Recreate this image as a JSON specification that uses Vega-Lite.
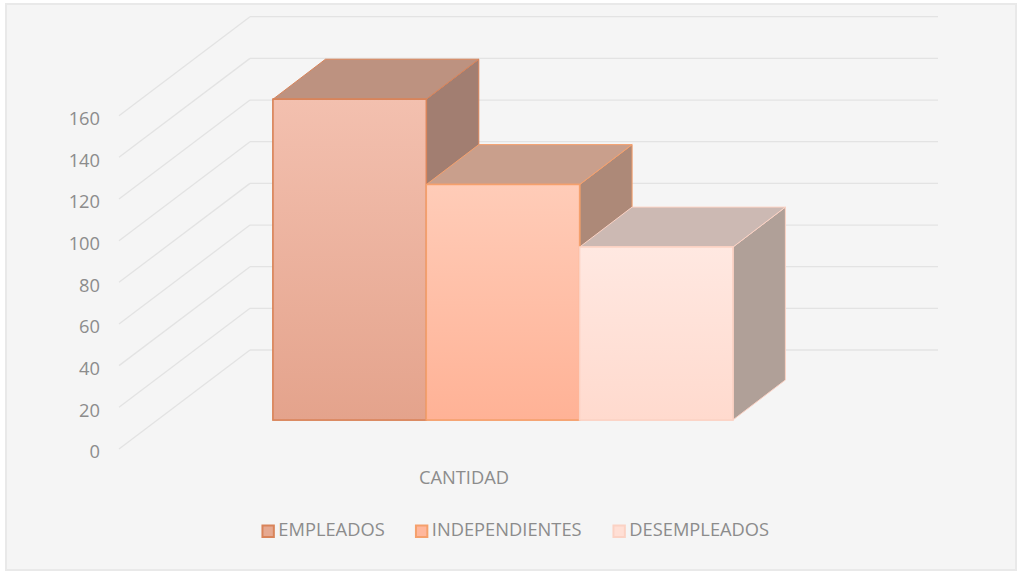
{
"$schema":"https://vega.github.io/schema/vega-lite/v6.json",
"width":1010,"height":566,
"autosize":{"type":"none"},
"padding":{"left":6,"top":4,"right":2,"bottom":1},
"background":"#ffffff",
"config":{"view":{"fill":"#f5f5f5","stroke":"#e9e9e9","strokeWidth":2},"font":"Open Sans"},
"datasets":{
"barras":[{"categoria":"EMPLEADOS","cantidad":154},{"categoria":"INDEPENDIENTES","cantidad":113},{"categoria":"DESEMPLEADOS","cantidad":83}],
"ejes":[{"valor":0},{"valor":20},{"valor":40},{"valor":60},{"valor":80},{"valor":100},{"valor":120},{"valor":140},{"valor":160}]
},
"resolve":{"scale":{"fill":"independent"},"axis":{"x":"independent","y":"independent"}},
"layer":[
{"data":{"name":"ejes"},
 "transform":[{"calculate":"119","as":"xa"},{"calculate":"250","as":"xb"},{"calculate":"datum.valor+47.5","as":"fondo"}],
 "mark":{"type":"rule","color":"#e3e3e3","strokeWidth":1.3},
 "encoding":{
  "x":{"field":"xa","type":"quantitative","scale":{"domain":[6,1016],"nice":false,"zero":false},
   "axis":{"title":"CANTIDAD","labels":false,"ticks":false,"domain":false,"grid":false,"titleX":457.5,"titleY":-92,"titleAlign":"center","titleBaseline":"middle","titleFont":"Open Sans","titleFontSize":18.3,"titleFontWeight":"normal","titleColor":"#8c8c8c"}},
  "x2":{"field":"xb"},
  "y":{"field":"valor","type":"quantitative","scale":{"domain":[-58.1,213.6],"nice":false,"zero":false},
   "axis":{"title":null,"values":[0,20,40,60,80,100,120,140,160],"offset":-93.5,"labelPadding":0,"ticks":false,"domain":false,"grid":false,"labelFont":"Open Sans","labelFontSize":18.3,"labelColor":"#8c8c8c","labelOffset":4}},
  "y2":{"field":"fondo"}}},
{"data":{"name":"ejes"},
 "transform":[{"calculate":"250","as":"xa"},{"calculate":"938","as":"xb"},{"calculate":"datum.valor+47.5","as":"fondo"}],
 "mark":{"type":"rule","color":"#e3e3e3","strokeWidth":1.3},
 "encoding":{
  "x":{"field":"xa","type":"quantitative","axis":null},
  "x2":{"field":"xb"},
  "y":{"field":"fondo","type":"quantitative","axis":null}}},
{"data":{"name":"barras"},
 "transform":[
  {"calculate":"indexof(['EMPLEADOS','INDEPENDIENTES','DESEMPLEADOS'],datum.categoria)","as":"i"},
  {"calculate":"[0,1]","as":"d"},{"flatten":["d"]},
  {"calculate":"273+153.3*datum.i+153.3+52.5*datum.d","as":"px"},
  {"calculate":"13.9+datum.cantidad+19.2*datum.d","as":"ya"},
  {"calculate":"13.9+19.2*datum.d","as":"yb"}],
 "mark":{"type":"area","orient":"vertical","strokeWidth":1},
 "encoding":{
  "x":{"field":"px","type":"quantitative","axis":null},
  "y":{"field":"ya","type":"quantitative","axis":null,"stack":null},
  "y2":{"field":"yb"},
  "detail":{"field":"categoria"},
  "fill":{"field":"categoria","type":"nominal","legend":null,"scale":{"domain":["EMPLEADOS","INDEPENDIENTES","DESEMPLEADOS"],"range":["#a27e71","#ad8978","#b0a098"]}},
  "stroke":{"field":"categoria","type":"nominal","legend":null}}},
{"data":{"name":"barras"},
 "transform":[
  {"calculate":"indexof(['EMPLEADOS','INDEPENDIENTES','DESEMPLEADOS'],datum.categoria)","as":"i"},
  {"calculate":"[0,1]","as":"d"},{"flatten":["d"]},
  {"calculate":"273+153.3*datum.i+52.5*datum.d","as":"xa"},
  {"calculate":"273+153.3*datum.i+153.3+52.5*datum.d","as":"xb"},
  {"calculate":"13.9+datum.cantidad+19.2*datum.d","as":"ya"}],
 "mark":{"type":"area","orient":"horizontal","strokeWidth":1},
 "encoding":{
  "y":{"field":"ya","type":"quantitative","axis":null},
  "x":{"field":"xa","type":"quantitative","axis":null,"stack":null},
  "x2":{"field":"xb"},
  "detail":{"field":"categoria"},
  "fill":{"field":"categoria","type":"nominal","legend":null,"scale":{"domain":["EMPLEADOS","INDEPENDIENTES","DESEMPLEADOS"],"range":["#bd9280","#c99f8c","#ccb9b3"]}},
  "stroke":{"field":"categoria","type":"nominal","legend":null}}},
{"data":{"name":"barras"},
 "transform":[
  {"calculate":"indexof(['EMPLEADOS','INDEPENDIENTES','DESEMPLEADOS'],datum.categoria)","as":"i"},
  {"calculate":"273+153.3*datum.i","as":"xa"},
  {"calculate":"273+153.3*datum.i+153.3","as":"xb"},
  {"calculate":"13.9+datum.cantidad","as":"ya"},
  {"calculate":"13.9","as":"yb"}],
 "mark":{"type":"rect","strokeWidth":1.5},
 "encoding":{
  "x":{"field":"xa","type":"quantitative","axis":null},
  "x2":{"field":"xb"},
  "y":{"field":"ya","type":"quantitative","axis":null},
  "y2":{"field":"yb"},
  "fill":{"field":"categoria","type":"nominal",
   "scale":{"domain":["EMPLEADOS","INDEPENDIENTES","DESEMPLEADOS"],"range":["#e6a991","#ffb79c","#ffdfd5"]},
   "legend":{"title":null,"orient":"none","legendX":253,"legendY":518,"direction":"horizontal","columns":3,"symbolType":"square","symbolSize":130,"symbolStrokeWidth":2,"labelFont":"Open Sans","labelFontSize":18.3,"labelColor":"#8c8c8c","columnPadding":26.5,"labelOffset":1,"gridAlign":"each","labelLimit":300,
    "encode":{"symbols":{"update":{"stroke":{"signal":"datum.value=='EMPLEADOS'?'#d9845a':datum.value=='INDEPENDIENTES'?'#f5a06c':'#fbd2c4'"}}}}}},
  "stroke":{"field":"categoria","type":"nominal","legend":null,
   "scale":{"domain":["EMPLEADOS","INDEPENDIENTES","DESEMPLEADOS"],"range":["#d9845a","#f5a06c","#fbd2c4"]}}}},
{"data":{"name":"barras"},
 "transform":[{"filter":"datum.categoria=='EMPLEADOS'"},
  {"calculate":"273","as":"xa"},{"calculate":"426.3","as":"xb"},{"calculate":"13.9+datum.cantidad","as":"ya"},{"calculate":"13.9","as":"yb"}],
 "mark":{"type":"rect","stroke":"#d9845a","strokeWidth":1.5,"fill":{"gradient":"linear","x1":0,"y1":0,"x2":0,"y2":1,"stops":[{"offset":0,"color":"#f3c0af"},{"offset":1,"color":"#e4a38c"}]}},
 "encoding":{"x":{"field":"xa","type":"quantitative","axis":null},"x2":{"field":"xb"},"y":{"field":"ya","type":"quantitative","axis":null},"y2":{"field":"yb"}}},
{"data":{"name":"barras"},
 "transform":[{"filter":"datum.categoria=='INDEPENDIENTES'"},
  {"calculate":"426.3","as":"xa"},{"calculate":"579.6","as":"xb"},{"calculate":"13.9+datum.cantidad","as":"ya"},{"calculate":"13.9","as":"yb"}],
 "mark":{"type":"rect","stroke":"#f5a06c","strokeWidth":1.5,"fill":{"gradient":"linear","x1":0,"y1":0,"x2":0,"y2":1,"stops":[{"offset":0,"color":"#ffccb8"},{"offset":1,"color":"#ffb296"}]}},
 "encoding":{"x":{"field":"xa","type":"quantitative","axis":null},"x2":{"field":"xb"},"y":{"field":"ya","type":"quantitative","axis":null},"y2":{"field":"yb"}}},
{"data":{"name":"barras"},
 "transform":[{"filter":"datum.categoria=='DESEMPLEADOS'"},
  {"calculate":"579.6","as":"xa"},{"calculate":"732.9","as":"xb"},{"calculate":"13.9+datum.cantidad","as":"ya"},{"calculate":"13.9","as":"yb"}],
 "mark":{"type":"rect","stroke":"#fbd2c4","strokeWidth":1.5,"fill":{"gradient":"linear","x1":0,"y1":0,"x2":0,"y2":1,"stops":[{"offset":0,"color":"#ffe8e1"},{"offset":1,"color":"#ffdace"}]}},
 "encoding":{"x":{"field":"xa","type":"quantitative","axis":null},"x2":{"field":"xb"},"y":{"field":"ya","type":"quantitative","axis":null},"y2":{"field":"yb"}}}
]
}
